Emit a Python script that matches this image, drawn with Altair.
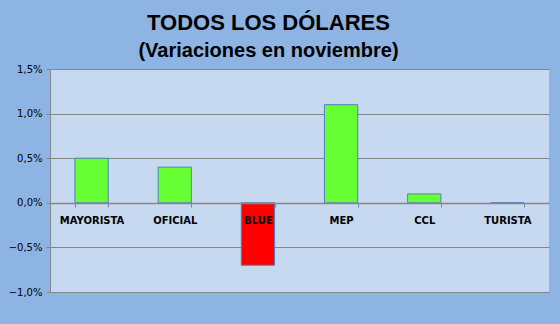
import altair as alt
import pandas as pd

categories = ["MAYORISTA", "OFICIAL", "BLUE", "MEP", "CCL", "TURISTA"]
values = [0.5, 0.4, -0.7, 1.1, 0.1, 0.0]
bar_colors = ["#66FF33", "#66FF33", "#FF0000", "#66FF33", "#66FF33", "#66FF33"]
y_ticks = [-1.0, -0.5, 0.0, 0.5, 1.0, 1.5]

df = pd.DataFrame({"cat": categories, "val": values, "color": bar_colors})

bars = alt.Chart(df).mark_bar(stroke="#4F81BD", strokeWidth=1).encode(
    x=alt.X(
        "cat:N",
        sort=categories,
        title=None,
        scale=alt.Scale(paddingInner=0.6, paddingOuter=0.3),
        axis=alt.Axis(
            offset=-89,
            labelAngle=0,
            labelFont="DejaVu Sans",
            labelFontWeight="bold",
            labelFontSize=10,
            labelColor="#000000",
            labelPadding=8,
            tickBand="extent",
            tickSize=4,
            tickColor="#868686",
            domainColor="#868686",
            domainWidth=1.5,
            zindex=1,
        ),
    ),
    y=alt.Y(
        "val:Q",
        title=None,
        scale=alt.Scale(domain=[-1.0, 1.5], nice=False, zero=True),
        axis=alt.Axis(
            values=y_ticks,
            labelExpr="replace(format(datum.value, '.1f'), '.', ',') + '%'",
            labelFont="DejaVu Sans",
            labelFontSize=10,
            labelColor="#000000",
            labelPadding=4,
            tickSize=4,
            tickColor="#868686",
            domainColor="#868686",
            gridColor="#868686",
            gridWidth=1,
            grid=True,
        ),
    ),
    color=alt.Color("color:N", scale=None, legend=None),
)

chart = bars.properties(
    width=499,
    height=223,
    background="#8DB4E2",
    padding={"left": 50, "top": 69, "right": 11, "bottom": 32},
    autosize=alt.AutoSizeParams(type="none"),
    title=alt.TitleParams(
        text="TODOS LOS DÓLARES",
        subtitle="(Variaciones en noviembre)",
        font="Liberation Sans",
        fontSize=22,
        fontWeight="bold",
        color="#000000",
        subtitleFont="Liberation Sans",
        subtitleFontSize=20,
        subtitleFontWeight="bold",
        subtitleColor="#000000",
        subtitlePadding=6,
        anchor="middle",
        dx=-31,
        offset=2,
    ),
).configure_view(fill="#C6D9F1", stroke=None)

chart.save("out.html", embed_options={"renderer": "svg", "actions": False})
